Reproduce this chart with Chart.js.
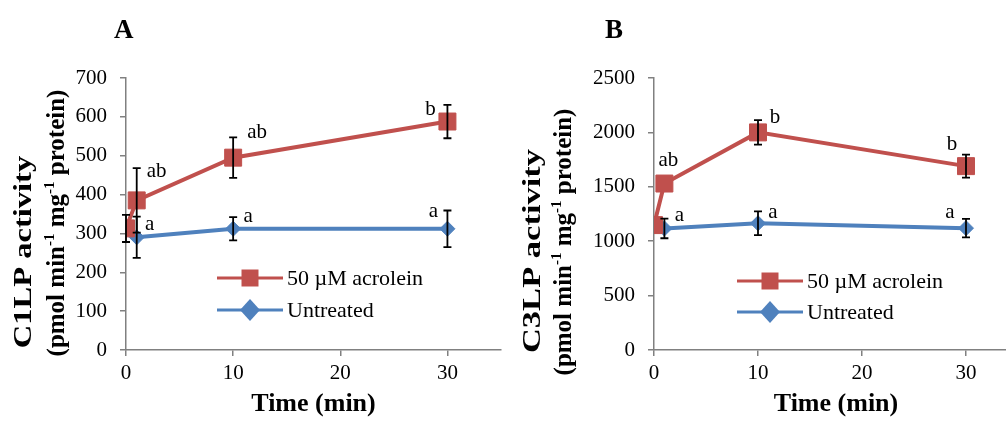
<!DOCTYPE html>
<html lang="en">

<head>
  <meta charset="UTF-8">
  <title>C1LP / C3LP activity</title>
  <script src="https://cdn.jsdelivr.net/npm/chart.js"></script>
  <style>
    body {
      margin: 0;
      width: 1006px;
      height: 423px;
      overflow: hidden;
      position: relative;
      background: #ffffff;
      font-family: "Liberation Serif", serif;
    }

    canvas {
      position: absolute;
      top: 0;
    }

    .painel {
      position: absolute;
      top: 16px;
      font-size: 27px;
      font-weight: bold;
      line-height: 27px;
    }
  </style>
</head>

<body>
  <canvas id="graficoA" width="520" height="423" style="left:0px"></canvas>
  <canvas id="graficoB" width="540" height="423" style="left:500px"></canvas>
  <div class="painel" style="left:114px">A</div>
  <div class="painel" style="left:605px">B</div>
</body>

</html>

<script>
  // ---- dados ----
  var tempoAcroleina = [0, 1, 10, 30];
  var tempoControle = [1, 10, 30];

  // painel A - C1LP
  var c1lpAcroleina = [313, 385, 495, 588];
  var c1lpAcroleinaErro = [35, 83, 52, 43];
  var c1lpControle = [290, 312, 312];
  var c1lpControleErro = [53, 30, 47];
  var c1lpLetrasAcroleina = ['', 'ab', 'ab', 'b'];
  var c1lpLetrasControle = ['a', 'a', 'a'];

  // painel B - C3LP
  var c3lpAcroleina = [1148, 1530, 2000, 1690];
  var c3lpAcroleinaErro = [0, 0, 112, 106];
  var c3lpControle = [1117, 1165, 1120];
  var c3lpControleErro = [90, 110, 85];
  var c3lpLetrasAcroleina = ['', 'ab', 'b', 'b'];
  var c3lpLetrasControle = ['a', 'a', 'a'];

  var xTicks = [0, 10, 20, 30];
  var nomeAcroleina = '50 \u00b5M acrolein';
  var nomeControle = 'Untreated';
  var tituloX = 'Time (min)';
  // segunda linha do titulo Y: [texto, sobrescrito?]
  var unidadeY = [['(pmol min', false], ['-1', true], [' mg', false], ['-1', true], [' protein)', false]];

  var FONTE = "'Liberation Serif', 'Times New Roman', serif";
  var VERMELHO = '#C0504D';
  var AZUL = '#4F81BD';
  var CINZA = '#808080';

  function pontos(xs, ys) {
    var lista = [];
    for (var i = 0; i < xs.length; i++) {
      lista.push({ x: xs[i], y: ys[i] });
    }
    return lista;
  }

  // barras de erro desenhadas com as escalas do proprio grafico
  var pluginErro = {
    id: 'barrasErro',
    afterDatasetsDraw: function (chart) {
      var ctx = chart.ctx;
      var escalaY = chart.scales.y;
      ctx.save();
      ctx.strokeStyle = '#000000';
      ctx.lineWidth = 1.8;
      chart.data.datasets.forEach(function (ds, i) {
        var meta = chart.getDatasetMeta(i);
        for (var j = 0; j < ds.data.length; j++) {
          var e = ds.erros[j];
          if (!e) continue;
          var px = meta.data[j].x;
          var topo = escalaY.getPixelForValue(ds.data[j].y + e);
          var base = escalaY.getPixelForValue(ds.data[j].y - e);
          ctx.beginPath();
          ctx.moveTo(px, topo);
          ctx.lineTo(px, base);
          ctx.moveTo(px - 4, topo);
          ctx.lineTo(px + 4, topo);
          ctx.moveTo(px - 4, base);
          ctx.lineTo(px + 4, base);
          ctx.stroke();
        }
      });
      ctx.restore();
    }
  };

  // letras de significancia ao lado dos pontos
  var pluginLetras = {
    id: 'letras',
    afterDatasetsDraw: function (chart, args, opts) {
      var ctx = chart.ctx;
      ctx.save();
      ctx.fillStyle = '#000000';
      ctx.font = '21px ' + FONTE;
      ctx.textAlign = 'center';
      ctx.textBaseline = 'middle';
      chart.data.datasets.forEach(function (ds, i) {
        var meta = chart.getDatasetMeta(i);
        var desloc = opts.deslocamentos[i];
        for (var j = 0; j < ds.letras.length; j++) {
          if (!ds.letras[j]) continue;
          ctx.fillText(ds.letras[j], meta.data[j].x + desloc[j][0], meta.data[j].y + desloc[j][1]);
        }
      });
      ctx.restore();
    }
  };

  // legenda dentro da area do grafico
  var pluginLegenda = {
    id: 'legendaInterna',
    afterDraw: function (chart, args, opts) {
      var ctx = chart.ctx;
      var area = chart.chartArea;
      var x0 = area.left + opts.x;
      ctx.save();
      chart.data.datasets.forEach(function (ds, i) {
        var y = opts.y[i];
        ctx.strokeStyle = ds.borderColor;
        ctx.lineWidth = 3;
        ctx.beginPath();
        ctx.moveTo(x0, y);
        ctx.lineTo(x0 + 66, y);
        ctx.stroke();
        var cx = x0 + 33;
        ctx.fillStyle = ds.backgroundColor;
        ctx.beginPath();
        if (ds.pointStyle == 'rect') {
          ctx.rect(cx - 8.5, y - 8.5, 17, 17);
        } else {
          ctx.moveTo(cx - 10, y);
          ctx.lineTo(cx, y - 11);
          ctx.lineTo(cx + 10, y);
          ctx.lineTo(cx, y + 11);
          ctx.closePath();
        }
        ctx.fill();
        ctx.fillStyle = '#000000';
        ctx.font = '22px ' + FONTE;
        ctx.textAlign = 'left';
        ctx.textBaseline = 'middle';
        ctx.fillText(ds.label, x0 + 70, y + 1);
      });
      ctx.restore();
    }
  };

  // titulo do eixo Y em duas linhas (a segunda com sobrescritos)
  var pluginTituloY = {
    id: 'tituloY',
    afterDraw: function (chart, args, opts) {
      var ctx = chart.ctx;
      ctx.save();
      ctx.fillStyle = '#000000';
      ctx.textBaseline = 'middle';

      // linha 1
      ctx.save();
      ctx.translate(opts.x1, opts.y1);
      ctx.rotate(-Math.PI / 2);
      ctx.scale(opts.estica, 1);
      ctx.font = 'bold 25px ' + FONTE;
      ctx.textAlign = 'center';
      ctx.fillText(opts.texto, 0, 0);
      ctx.restore();

      // linha 2
      ctx.save();
      ctx.translate(opts.x2, opts.y2);
      ctx.rotate(-Math.PI / 2);
      ctx.textAlign = 'left';
      var total = 0;
      unidadeY.forEach(function (p) {
        ctx.font = (p[1] ? 'bold 15px ' : 'bold 25px ') + FONTE;
        total += ctx.measureText(p[0]).width;
      });
      var x = -total / 2;
      unidadeY.forEach(function (p) {
        ctx.font = (p[1] ? 'bold 15px ' : 'bold 25px ') + FONTE;
        ctx.fillText(p[0], x, p[1] ? -8 : 0);
        x += ctx.measureText(p[0]).width;
      });
      ctx.restore();
      ctx.restore();
    }
  };

  function criarGrafico(idCanvas, cfg) {
    var config = {
      type: 'line',
      data: {
        datasets: [{
          label: nomeAcroleina,
          data: pontos(tempoAcroleina, cfg.acroleina),
          erros: cfg.acroleinaErro,
          letras: cfg.letrasAcroleina,
          borderColor: VERMELHO,
          backgroundColor: VERMELHO,
          borderWidth: 4,
          pointStyle: 'rect',
          pointRadius: 12,
          pointBorderWidth: 1,
          tension: 0
        }, {
          label: nomeControle,
          data: pontos(tempoControle, cfg.controle),
          erros: cfg.controleErro,
          letras: cfg.letrasControle,
          borderColor: AZUL,
          backgroundColor: AZUL,
          borderWidth: 4,
          pointStyle: 'rectRot',
          pointRadius: 7.5,
          pointBorderWidth: 1,
          tension: 0
        }]
      },
      options: {
        responsive: false,
        devicePixelRatio: 1,
        animation: false,
        layout: {
          padding: { top: 78, right: cfg.dirPad, left: 0, bottom: 0 }
        },
        plugins: {
          legend: { display: false },
          tooltip: { enabled: false },
          letras: { deslocamentos: cfg.deslocamentos },
          legendaInterna: { x: cfg.legX, y: cfg.legY },
          tituloY: cfg.tituloY
        },
        scales: {
          x: {
            type: 'linear',
            min: 0,
            max: 35,
            afterBuildTicks: function (escala) {
              escala.ticks = xTicks.map(function (v) { return { value: v }; });
            },
            afterFit: function (escala) { escala.height = 73; },
            grid: { display: true, drawOnChartArea: false, drawTicks: true, tickLength: 6, color: CINZA, lineWidth: 1.5 },
            border: { color: CINZA, width: 1.5 },
            ticks: {
              color: '#000000', padding: 5, font: { family: FONTE, size: 21 },
              callback: function (v) { return String(v); }
            },
            title: {
              display: true,
              text: tituloX,
              color: '#000000',
              padding: { top: 0, bottom: 3 },
              font: { family: FONTE, size: 26, weight: 'bold', lineHeight: 1.2 }
            }
          },
          y: {
            min: 0,
            max: cfg.yMax,
            ticks: {
              stepSize: cfg.yPasso, color: '#000000', padding: 13, font: { family: FONTE, size: 21 },
              callback: function (v) { return String(v); }
            },
            afterFit: function (escala) { escala.width = cfg.yLargura; },
            grid: { display: true, drawOnChartArea: false, drawTicks: true, tickLength: 6, color: CINZA, lineWidth: 1.5 },
            border: { color: CINZA, width: 1.5 },
            title: { display: false }
          }
        }
      },
      plugins: [pluginErro, pluginLetras, pluginLegenda, pluginTituloY]
    };
    return new Chart(document.getElementById(idCanvas), config);
  }

  criarGrafico('graficoA', {
    acroleina: c1lpAcroleina,
    acroleinaErro: c1lpAcroleinaErro,
    controle: c1lpControle,
    controleErro: c1lpControleErro,
    letrasAcroleina: c1lpLetrasAcroleina,
    letrasControle: c1lpLetrasControle,
    yMax: 700,
    yPasso: 100,
    yLargura: 126,
    dirPad: 19,
    tituloY: { texto: 'C1LP activity', x1: 25, y1: 252, x2: 58, y2: 223, estica: 1.3 },
    deslocamentos: [
      [[0, 0], [20, -29], [24, -25], [-17, -12]],
      [[13, -13], [15, -12], [-14, -17]]
    ],
    legX: 91,
    legY: [278, 310]
  });

  criarGrafico('graficoB', {
    acroleina: c3lpAcroleina,
    acroleinaErro: c3lpAcroleinaErro,
    controle: c3lpControle,
    controleErro: c3lpControleErro,
    letrasAcroleina: c3lpLetrasAcroleina,
    letrasControle: c3lpLetrasControle,
    yMax: 2500,
    yPasso: 500,
    yLargura: 154,
    dirPad: 22,
    tituloY: { texto: 'C3LP activity', x1: 34, y1: 251, x2: 65, y2: 242, estica: 1.38 },
    deslocamentos: [
      [[0, 0], [4, -23], [17, -15], [-14, -22]],
      [[15, -13], [15, -11], [-16, -16]]
    ],
    legX: 83,
    legY: [281, 312]
  });
</script>
